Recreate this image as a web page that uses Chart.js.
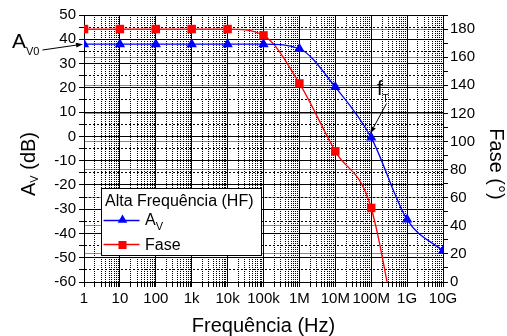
<!DOCTYPE html>
<html>
<head>
<meta charset="utf-8">
<script src="https://cdn.jsdelivr.net/npm/chart.js@4.4.0/dist/chart.umd.min.js"></script>
<style>
  html, body { margin: 0; padding: 0; background: #fff; }
  #wrap { width: 507px; height: 336px; }
</style>
</head>
<body>
<div id="wrap"><canvas id="bodeChart" width="507" height="336"></canvas></div>
<script>
// frequency points (Hz) and their axis labels
const freqHz = [1, 10, 100, 1e3, 1e4, 1e5, 1e6, 1e7, 1e8, 1e9, 1e10];
const freqLabels = ['1', '10', '100', '1k', '10k', '100k', '1M', '10M', '100M', '1G', '10G'];

// A_V in dB
const gainDb = [38, 38, 38, 38, 38, 38, 36.1, 20.3, -0.5, -34.3, -47.2];

// fase in degrees (last point lies below the axis, only the curve toward it shows)
const phaseFreqHz = [1, 10, 100, 1e3, 1e4, 1e5, 1e6, 1e7, 1e8, 1e9];
const phaseDeg = [180, 180, 180, 180, 180, 175.5, 141.3, 93, 52.7, -80];

// tick labels on the two vertical axes
const gainTicks = [-60, -50, -40, -30, -20, -10, 0, 10, 20, 30, 40, 50];
const phaseTicks = [0, 20, 40, 60, 80, 100, 120, 140, 160, 180];

const FONT = "'Liberation Sans', Arial, sans-serif";
Chart.defaults.font.family = FONT;
Chart.defaults.color = '#000';

const isDecade = v => Math.abs(Math.log10(v) - Math.round(Math.log10(v))) < 1e-9;

// minor ticks: 2..9 inside every decade, mid points on the linear axes
const xTickValues = [];
for (let d = 0; d < 10; d++) {
  for (let m = 1; m < 10; m++) xTickValues.push(m * Math.pow(10, d));
}
xTickValues.push(1e10);
const gainTickValues = [];
gainTicks.forEach((v, i) => { gainTickValues.push(v); if (i < gainTicks.length - 1) gainTickValues.push(v + 5); });
const phaseTickValues = [];
for (let i = 0; i <= 19; i++) phaseTickValues.push(i * 10);

function drawSub(ctx, x, y, main, sub, mainSize, subSize, drop) {
  ctx.font = mainSize + 'px ' + FONT;
  ctx.fillText(main, x, y);
  const w = ctx.measureText(main).width;
  ctx.font = subSize + 'px ' + FONT;
  ctx.fillText(sub, x + w, y + drop);
  return w + ctx.measureText(sub).width;
}

function arrow(ctx, x0, y0, x1, y1) {
  const ang = Math.atan2(y1 - y0, x1 - x0);
  const L = 7, W = 2.5;
  ctx.beginPath();
  ctx.moveTo(x0, y0);
  ctx.lineTo(x1 - Math.cos(ang) * L, y1 - Math.sin(ang) * L);
  ctx.stroke();
  ctx.beginPath();
  ctx.moveTo(x1, y1);
  ctx.lineTo(x1 - Math.cos(ang) * L - Math.sin(ang) * W, y1 - Math.sin(ang) * L + Math.cos(ang) * W);
  ctx.lineTo(x1 - Math.cos(ang) * L + Math.sin(ang) * W, y1 - Math.sin(ang) * L - Math.cos(ang) * W);
  ctx.closePath();
  ctx.fill();
}

const decor = {
  id: 'decor',
  afterDraw(chart) {
    const { ctx, chartArea: a, scales } = chart;
    const x = scales.x, y = scales.y;
    ctx.save();
    ctx.fillStyle = '#000';
    ctx.strokeStyle = '#000';
    ctx.lineWidth = 1;

    // top frame line
    ctx.beginPath();
    ctx.moveTo(a.left, Math.round(a.top) + 0.5);
    ctx.lineTo(a.right, Math.round(a.top) + 0.5);
    ctx.stroke();

    // x title
    ctx.textBaseline = 'alphabetic';
    ctx.textAlign = 'center';
    ctx.font = '20px ' + FONT;
    ctx.fillText('Frequência (Hz)', (a.left + a.right) / 2, 332);

    // left title: A_V (dB)
    ctx.textAlign = 'left';
    ctx.save();
    ctx.translate(35, 164);
    ctx.rotate(-Math.PI / 2);
    ctx.font = '20px ' + FONT;
    const wA = ctx.measureText('A').width;
    ctx.font = '11px ' + FONT;
    const wV = ctx.measureText('V').width;
    ctx.font = '20px ' + FONT;
    const wRest = ctx.measureText(' (dB)').width;
    let sx = -(wA + wV + wRest) / 2;
    drawSub(ctx, sx, 0, 'A', 'V', 20, 11, 3);
    ctx.font = '20px ' + FONT;
    ctx.fillText(' (dB)', sx + wA + wV, 0);
    ctx.restore();

    // right title: Fase (°)
    ctx.save();
    ctx.translate(490, 164);
    ctx.rotate(Math.PI / 2);
    ctx.textAlign = 'center';
    ctx.font = '20px ' + FONT;
    ctx.fillText('Fase (°)', 0, 0);
    ctx.restore();

    // A_V0 annotation
    ctx.textAlign = 'left';
    drawSub(ctx, 12, 48, 'A', 'V0', 21, 11, 7);
    arrow(ctx, 42.5, 50, a.left - 1, y.getPixelForValue(gainDb[0]));

    // f_T annotation
    drawSub(ctx, 377, 95, 'f', 'T', 20, 10, 7);
    const fx = x.getPixelForValue(freqHz[8]), fy = y.getPixelForValue(gainDb[8]);
    arrow(ctx, 386.5, 103.5, fx - 1, fy - 4);

    // legend box
    const bx = a.left + 17.5, by = 188.5, bw = 160, bh = 67;
    ctx.fillStyle = '#fff';
    ctx.fillRect(bx, by, bw, bh);
    ctx.strokeRect(bx, by, bw, bh);
    ctx.fillStyle = '#000';
    ctx.font = '16px ' + FONT;
    ctx.fillText('Alta Frequência (HF)', bx + 3.5, 206);

    // A_V item
    ctx.strokeStyle = '#0000ff';
    ctx.lineWidth = 1.3;
    ctx.beginPath(); ctx.moveTo(bx + 2, 220.5); ctx.lineTo(bx + 38, 220.5); ctx.stroke();
    ctx.fillStyle = '#0000ff';
    const r = 5.5, cx = bx + 21, cy = 220;
    ctx.beginPath();
    ctx.moveTo(cx, cy - r);
    ctx.lineTo(cx + r * Math.sin(2 * Math.PI / 3), cy - r * Math.cos(2 * Math.PI / 3));
    ctx.lineTo(cx + r * Math.sin(4 * Math.PI / 3), cy - r * Math.cos(4 * Math.PI / 3));
    ctx.closePath(); ctx.fill();
    ctx.fillStyle = '#000';
    drawSub(ctx, bx + 43.5, 225, 'A', 'V', 16, 11, 5);

    // Fase item
    ctx.strokeStyle = '#ff0000';
    ctx.beginPath(); ctx.moveTo(bx + 2, 244.5); ctx.lineTo(bx + 38, 244.5); ctx.stroke();
    ctx.fillStyle = '#ff0000';
    ctx.fillRect(cx - 4, 241, 8, 8);
    ctx.fillStyle = '#000';
    ctx.font = '16px ' + FONT;
    ctx.fillText('Fase', bx + 43.5, 250);

    ctx.restore();
  }
};

const ctx = document.getElementById('bodeChart').getContext('2d');
const bodeChart = new Chart(ctx, {
  type: 'line',
  data: {
    datasets: [
      {
        label: 'AV',
        data: freqHz.map((f, i) => ({ x: f, y: gainDb[i] })),
        yAxisID: 'y',
        borderColor: '#0000ff',
        backgroundColor: '#0000ff',
        borderWidth: 1.3,
        pointStyle: 'triangle',
        pointRadius: 6,
        pointBorderWidth: 0,
        cubicInterpolationMode: 'monotone'
      },
      {
        label: 'Fase',
        data: phaseFreqHz.map((f, i) => ({ x: f, y: phaseDeg[i] })),
        yAxisID: 'y2',
        borderColor: '#ff0000',
        backgroundColor: '#ff0000',
        borderWidth: 1.3,
        pointStyle: 'rect',
        pointRadius: phaseDeg.map(v => (v < 0 ? 0 : 6)),
        pointBorderWidth: 0,
        cubicInterpolationMode: 'monotone'
      }
    ]
  },
  options: {
    responsive: false,
    animation: false,
    devicePixelRatio: 1,
    layout: { padding: { top: 15, left: 0, right: 0, bottom: 0 } },
    elements: { line: { capBezierPoints: false } },
    plugins: { legend: { display: false }, tooltip: { enabled: false } },
    scales: {
      x: {
        type: 'logarithmic',
        position: 'bottom',
        min: 1,
        max: 1e10,
        afterBuildTicks: s => { s.ticks = xTickValues.map(v => ({ value: v })); },
        afterFit: s => { s.height = 54; },
        ticks: {
          autoSkip: false,
          maxRotation: 0,
          padding: 3,
          font: { size: 15 },
          callback: v => (isDecade(v) ? freqLabels[Math.round(Math.log10(v))] : '')
        },
        grid: {
          color: '#000',
          lineWidth: 1,
          tickLength: 5,
          tickColor: '#000'
        },
        border: {
          color: '#000',
          width: 1,
          dash: c => (c.tick && !isDecade(c.tick.value) ? [1, 1] : [])
        }
      },
      y: {
        type: 'linear',
        position: 'left',
        min: -60,
        max: 50,
        afterBuildTicks: s => { s.ticks = gainTickValues.map(v => ({ value: v })); },
        afterFit: s => { s.width = 84; },
        ticks: {
          autoSkip: false,
          padding: 3,
          font: { size: 15 },
          callback: v => (gainTicks.includes(v) ? String(v) : '')
        },
        grid: {
          color: '#000',
          lineWidth: 1,
          tickLength: 5,
          tickColor: '#000'
        },
        border: {
          color: '#000',
          width: 1,
          dash: c => (c.tick && !gainTicks.includes(c.tick.value) ? [2, 2] : [])
        }
      },
      y2: {
        type: 'linear',
        position: 'right',
        min: 0,
        max: 190,
        afterBuildTicks: s => { s.ticks = phaseTickValues.map(v => ({ value: v })); },
        afterFit: s => { s.width = 64; },
        ticks: {
          autoSkip: false,
          padding: 2,
          font: { size: 15 },
          callback: v => (phaseTicks.includes(v) ? String(v) : '')
        },
        grid: {
          color: c => (c.tick && phaseTicks.includes(c.tick.value) ? 'rgba(0,0,0,0.45)' : 'rgba(0,0,0,0)'),
          lineWidth: 1,
          tickLength: 5,
          tickColor: '#000'
        },
        border: { color: '#000', width: 1 }
      }
    }
  },
  plugins: [decor]
});
</script>
</body>
</html>
